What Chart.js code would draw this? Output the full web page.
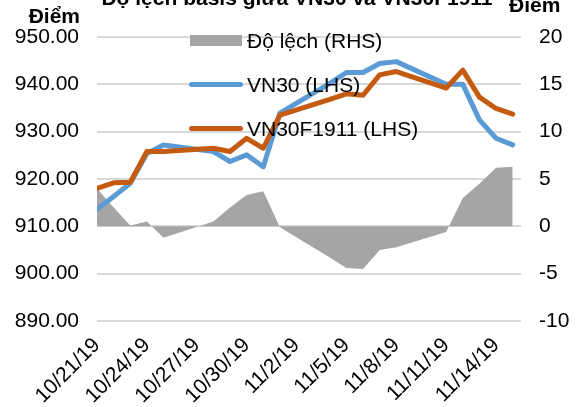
<!DOCTYPE html>
<html lang="vi">
<head>
    <meta charset="UTF-8">
    <title>Độ lệch basis giữa VN30 và VN30F1911</title>
    <style>
        * { margin: 0; padding: 0; box-sizing: border-box; }
        body {
            width: 579px;
            height: 407px;
            overflow: hidden;
            background: #fff;
            font-family: "Liberation Sans", Arial, sans-serif;
            color: #000;
        }
        .wrap { position: relative; width: 579px; height: 407px; overflow: hidden; }
        canvas { position: absolute; left: 0; top: 0; }
        .lbl { position: absolute; font-size: 21px; white-space: nowrap; line-height: 24px; }
        .bold { font-weight: bold; }
        .swatch { position: absolute; }
    </style>
    <script src="https://cdn.jsdelivr.net/npm/chart.js"></script>
</head>
<body>
<div class="wrap">
    <canvas id="basisChart" width="579" height="407"></canvas>

    <!-- title is clipped by the top edge, as in the picture -->
    <div class="lbl bold" style="left:0; width:594px; text-align:center; top:-14px;">Độ lệch basis giữa VN30 và VN30F1911</div>
    <div class="lbl bold" style="right:499px; top:4px;">Điểm</div>
    <div class="lbl bold" style="left:509px; top:-7px;">Điểm</div>

    <!-- legend inside the plot -->
    <div class="swatch" style="left:190px; top:35px; width:52px; height:11px; background:#A5A5A5;"></div>
    <div class="lbl" style="left:247px; top:29px;">Độ lệch (RHS)</div>
    <div class="swatch" style="left:189px; top:82px; width:54px; height:5px; border-radius:3px; background:#5B9BD5;"></div>
    <div class="lbl" style="left:247px; top:73px;">VN30 (LHS)</div>
    <div class="swatch" style="left:189px; top:126px; width:54px; height:5px; border-radius:3px; background:#C55A11;"></div>
    <div class="lbl" style="left:247px; top:117px;">VN30F1911 (LHS)</div>
</div>

<script>
    // trading days
    const dates = ['10/21/19', '10/22/19', '10/23/19', '10/24/19', '10/25/19',
                   '10/28/19', '10/29/19', '10/30/19', '10/31/19', '11/1/19',
                   '11/4/19', '11/5/19', '11/6/19', '11/7/19', '11/8/19',
                   '11/11/19', '11/12/19', '11/13/19', '11/14/19', '11/15/19'];
    const vn30 = [913.6, 916.3, 919.1, 925.4, 927.2, 925.8, 923.7, 925.1, 922.6, 933.9,
                  940.2, 942.5, 942.5, 944.4, 944.8, 940.0, 940.0, 932.5, 928.6, 927.2];
    const vn30f = [918.0, 919.2, 919.3, 925.8, 925.8, 926.5, 925.8, 928.6, 926.5, 933.5,
                   936.8, 938.0, 937.7, 942.0, 942.7, 939.2, 943.0, 937.3, 934.9, 933.7];
    const deviation = [4.0, 2.0, 0.1, 0.5, -1.2, 0.5, 2.0, 3.3, 3.7, -0.1,
                       -3.3, -4.4, -4.5, -2.5, -2.2, -0.6, 3.0, 4.5, 6.2, 6.3];
    const tickLabels = ['10/21/19', '10/24/19', '10/27/19', '10/30/19', '11/2/19',
                        '11/5/19', '11/8/19', '11/11/19', '11/14/19'];

    // date axis: position = days since first date
    function dayOffset(s) {
        const [m, d, y] = s.split('/').map(Number);
        return (Date.UTC(2000 + y, m - 1, d) - Date.UTC(2019, 9, 21)) / 86400000;
    }
    const xs = dates.map(dayOffset);
    const toPoints = arr => arr.map((v, i) => ({ x: xs[i], y: v }));

    const fontSpec = { family: "'Liberation Sans', Arial, sans-serif", size: 21 };

    new Chart(document.getElementById('basisChart').getContext('2d'), {
        type: 'line',
        data: {
            datasets: [
                {
                    label: 'Độ lệch (RHS)',
                    data: toPoints(deviation),
                    yAxisID: 'y1',
                    backgroundColor: '#A5A5A5',
                    borderWidth: 0,
                    pointRadius: 0,
                    fill: 'origin',
                    order: 3
                },
                {
                    label: 'VN30 (LHS)',
                    data: toPoints(vn30),
                    yAxisID: 'y',
                    borderColor: '#5B9BD5',
                    borderWidth: 5,
                    borderJoinStyle: 'round',
                    borderCapStyle: 'round',
                    pointRadius: 0,
                    fill: false,
                    order: 2
                },
                {
                    label: 'VN30F1911 (LHS)',
                    data: toPoints(vn30f),
                    yAxisID: 'y',
                    borderColor: '#C55A11',
                    borderWidth: 5,
                    borderJoinStyle: 'round',
                    borderCapStyle: 'round',
                    pointRadius: 0,
                    fill: false,
                    order: 1
                }
            ]
        },
        options: {
            responsive: false,
            animation: false,
            layout: { padding: { top: 37, left: 0, right: 0, bottom: 0 } },
            plugins: {
                legend: { display: false },
                title: { display: false },
                tooltip: { enabled: false }
            },
            scales: {
                x: {
                    type: 'linear',
                    min: 0,
                    max: 25.5,
                    grid: { display: false },
                    border: { display: false },
                    afterBuildTicks: s => { s.ticks = tickLabels.map(t => ({ value: dayOffset(t) })); },
                    afterFit: s => { s.height = 86; },
                    ticks: {
                        autoSkip: false,
                        maxRotation: 45,
                        minRotation: 45,
                        padding: 4,
                        color: '#000',
                        font: fontSpec,
                        callback: v => tickLabels.find(t => dayOffset(t) === v) || ''
                    }
                },
                y: {
                    position: 'left',
                    min: 890,
                    max: 950,
                    afterFit: s => { s.width = 97; },
                    grid: { color: '#D9D9D9', lineWidth: 2, drawTicks: false },
                    border: { display: false },
                    ticks: {
                        stepSize: 10,
                        padding: 18,
                        color: '#000',
                        font: fontSpec,
                        callback: v => v.toFixed(2)
                    }
                },
                y1: {
                    position: 'right',
                    min: -10,
                    max: 20,
                    afterFit: s => { s.width = 58; },
                    grid: { display: false, drawTicks: false },
                    border: { display: false },
                    ticks: {
                        stepSize: 5,
                        padding: 18,
                        color: '#000',
                        font: fontSpec
                    }
                }
            }
        }
    });
</script>
</body>
</html>
